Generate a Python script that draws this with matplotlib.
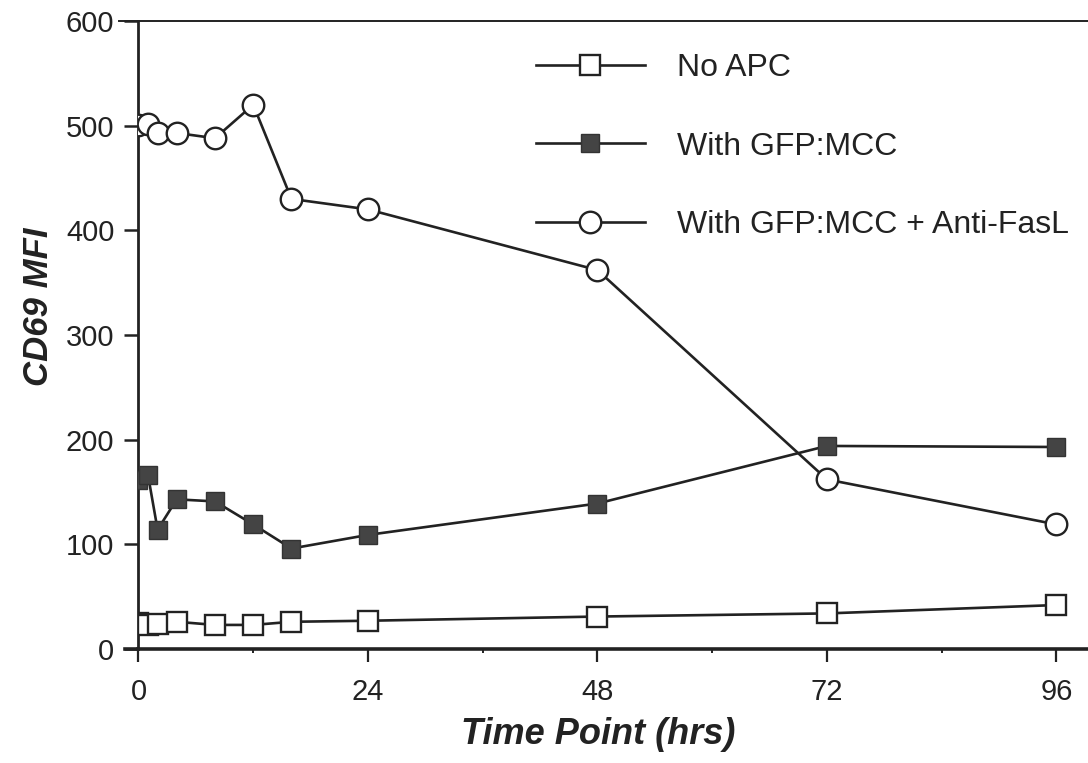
import numpy as np
import matplotlib
matplotlib.use("Agg")
import matplotlib.pyplot as plt
from matplotlib.ticker import MultipleLocator

plt.rcParams['font.family'] = ['Liberation Sans', 'DejaVu Sans']

# time points (hrs)
hours = [0, 1, 2, 4, 8, 12, 16, 24, 48, 72, 96]
no_apc = [25, 23, 24, 26, 23, 23, 26, 27, 31, 34, 42]
gfp_mcc = [161, 166, 114, 143, 141, 119, 96, 109, 139, 194, 193]
gfp_mcc_fasl = [501, 502, 493, 493, 488, 520, 430, 420, 362, 162, 119]

labels = ["No APC", "With GFP:MCC", "With GFP:MCC + Anti-FasL"]
x_ticks = [0, 24, 48, 72, 96]
y_ticks = [0, 100, 200, 300, 400, 500, 600]

ink = "#222222"


def main():
    fig = plt.figure(figsize=(10.88, 7.63), dpi=100)
    ax = fig.add_axes([138 / 1088, 114 / 763, 1 - 138 / 1088, (649 - 21) / 763])

    ax.plot(hours, no_apc, color=ink, lw=1.9, marker="s", ms=15,
            mfc="white", mec=ink, mew=1.7, label=labels[0], zorder=3)
    ax.plot(hours, gfp_mcc, color=ink, lw=1.9, marker="s", ms=12.5,
            mfc="#444444", mec="#333333", mew=1.0, label=labels[1], zorder=3)
    ax.plot(hours, gfp_mcc_fasl, color=ink, lw=1.9, marker="o", ms=15.5,
            mfc="white", mec=ink, mew=1.7, label=labels[2], zorder=4)

    ax.set_xlim(-0.05, 99.3)
    ax.set_ylim(0, 600)
    ax.set_xticks(x_ticks)
    ax.set_yticks(y_ticks)
    ax.xaxis.set_minor_locator(MultipleLocator(12))

    ax.spines["right"].set_visible(False)
    ax.spines["top"].set_linewidth(1.4)
    ax.spines["left"].set_linewidth(2.0)
    ax.spines["bottom"].set_linewidth(2.6)
    for s in ax.spines.values():
        s.set_color(ink)
        s.set_clip_on(False)

    ax.tick_params(axis="y", direction="out", length=10, width=1.8,
                   colors=ink, labelsize=21, pad=7)
    ax.tick_params(axis="x", which="major", direction="out", length=9,
                   width=1.6, colors=ink, labelsize=21, pad=12)
    ax.tick_params(axis="x", which="minor", direction="out", length=3,
                   width=1.4, colors=ink)

    # the frame lines reach a little left of the y axis, like the original
    ax.plot([-2.0, 0], [600, 600], color=ink, lw=1.4, clip_on=False)
    ax.plot([-1.4, 0], [0, 0], color=ink, lw=2.6, clip_on=False)

    fig.text(598 / 1088, 1 - 735 / 763, "Time Point (hrs)", ha="center",
             va="center", fontsize=26, fontweight="bold", fontstyle="italic",
             color=ink)
    fig.text(39 / 1088, 1 - 307 / 763, "CD69 MFI", ha="center", va="center",
             rotation=90, fontsize=25, fontweight="bold", fontstyle="italic",
             color=ink)

    leg = ax.legend(loc="upper left", bbox_to_anchor=(536 / 1088, 1 - 53 / 763),
                    bbox_transform=fig.transFigure, frameon=False, fontsize=23,
                    handlelength=3.4, handletextpad=1.0, labelspacing=1.52,
                    borderpad=0, borderaxespad=0)
    for t in leg.get_texts():
        t.set_color(ink)

    fig.savefig("out.png", dpi=100)


if __name__ == "__main__":
    main()
